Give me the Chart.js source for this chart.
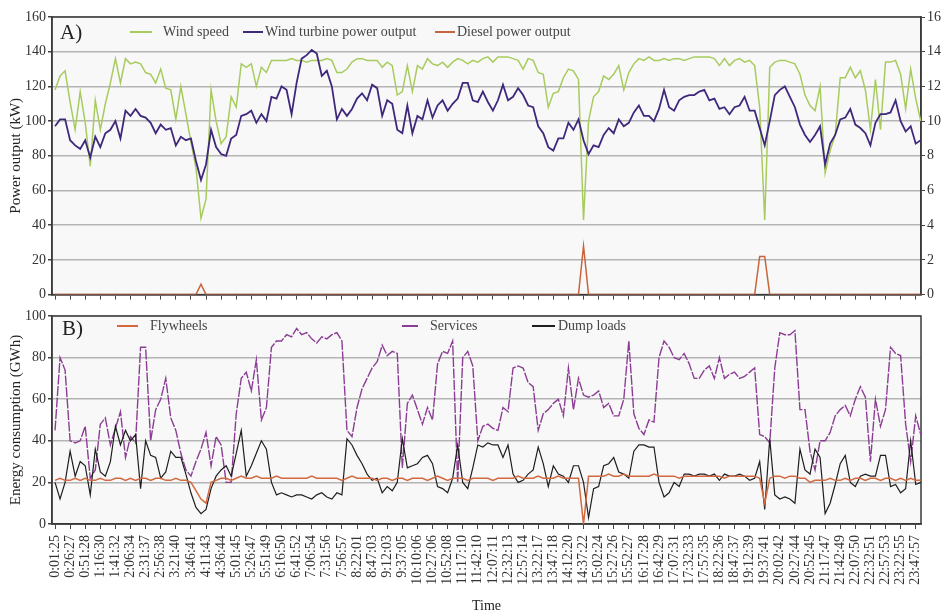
<!DOCTYPE html>
<html><head><meta charset="utf-8">
<script src="https://cdn.jsdelivr.net/npm/chart.js@4.4.1/dist/chart.umd.min.js"></script>
<style>
html,body{margin:0;padding:0;background:#fff;width:944px;height:611px;overflow:hidden}
#wa{position:absolute;left:0;top:0;width:944px;height:305px}
#wb{position:absolute;left:0;top:305px;width:944px;height:306px}
</style></head><body>
<div id="wa"><canvas id="ca"></canvas></div>
<div id="wb"><canvas id="cb"></canvas></div>
<script>
// ---- DATA ----
const tickLabels = ["0:01:25","0:26:27","0:51:28","1:16:30","1:41:32","2:06:34","2:31:37","2:56:38","3:21:40","3:46:41",
"4:11:43","4:36:44","5:01:45","5:26:47","5:51:49","6:16:50","6:41:52","7:06:54","7:31:56","7:56:57",
"8:22:01","8:47:03","9:12:03","9:37:05","10:10:06","10:27:06","10:52:08","11:17:10","11:42:10","12:07:11",
"12:32:13","12:57:14","13:22:17","13:47:18","14:12:20","14:37:22","15:02:24","15:27:26","15:52:27","16:17:28",
"16:42:29","17:07:31","17:32:33","17:57:35","18:22:36","18:47:37","19:12:39","19:37:41","20:02:42","20:27:44",
"20:52:45","21:17:47","21:42:49","22:07:50","22:32:51","22:57:53","23:22:55","23:47:57"];
const samplesPerTick = 3; // readings between two labelled ticks

// Wind speed (m/s, right axis)
const windSpeed = [11.8,12.6,12.9,11.1,9.5,11.7,9.9,7.4,11.2,9.5,11.0,12.2,13.6,12.2,13.6,13.3,13.4,13.3,12.8,12.7,
12.2,13.0,11.9,11.8,10.1,12.0,10.4,8.8,7.3,4.4,5.5,11.8,10.0,8.7,9.1,11.4,10.8,13.3,13.1,13.3,
12.0,13.1,12.8,13.5,13.5,13.5,13.5,13.6,13.5,13.5,13.4,13.5,13.5,13.5,13.6,13.5,12.8,12.8,13.0,
13.4,13.6,13.6,13.5,13.5,13.5,13.1,13.4,13.2,11.5,11.7,13.2,11.7,13.2,13.0,13.6,13.3,13.2,13.4,13.1,
13.4,13.6,13.5,13.3,13.5,13.4,13.6,13.7,13.4,13.7,13.7,13.7,13.6,13.5,13.0,13.6,13.5,12.8,12.7,10.8,
11.6,11.7,12.5,13.0,12.9,12.4,4.3,10.0,11.4,11.7,12.6,12.4,12.7,13.2,11.8,12.8,13.3,13.6,
13.5,13.7,13.5,13.5,13.6,13.5,13.6,13.6,13.5,13.6,13.7,13.7,13.7,13.7,13.6,13.2,13.6,13.2,13.5,13.6,
13.4,13.5,13.2,10.8,4.3,13.1,13.4,13.5,13.5,13.4,13.3,12.7,11.5,10.9,10.6,12.0,7.0,8.3,9.2,12.5,
12.5,13.1,12.5,12.9,11.8,9.5,12.4,9.5,13.4,13.4,13.5,12.7,10.7,13.0,11.3,10.0];

// Wind turbine power output (kW)
const turbinePower = [97,101,101,89,86,84,89,79,91,85,93,95,100,90,106,103,107,103,102,99,
93,98,95,96,86,91,89,90,77,66,75,95,85,81,80,90,92,103,104,106,
99,104,100,114,113,120,118,104,122,136,138,141,139,126,129,120,101,107,103,
107,113,116,112,121,119,103,112,110,95,93,109,93,103,101,112,102,109,112,106,
110,113,122,122,112,111,117,111,106,112,121,112,114,119,115,109,108,97,93,85,
83,90,90,99,95,101,89,81,86,85,92,96,93,101,97,99,105,109,
103,103,100,107,118,108,106,112,114,115,115,117,118,112,113,107,108,104,108,109,
114,106,106,96,86,100,115,118,120,114,108,98,92,88,92,97,75,87,92,101,
102,107,98,96,93,86,99,104,104,105,112,100,94,97,87,89];

// Diesel power output (kW)
const dieselPower = [0,0,0,0,0,0,0,0,0,0,0,0,0,0,0,0,0,0,0,0,
0,0,0,0,0,0,0,0,0,6,0,0,0,0,0,0,0,0,0,0,
0,0,0,0,0,0,0,0,0,0,0,0,0,0,0,0,0,0,0,0,
0,0,0,0,0,0,0,0,0,0,0,0,0,0,0,0,0,0,0,0,
0,0,0,0,0,0,0,0,0,0,0,0,0,0,0,0,0,0,0,0,
0,0,0,0,0,28,0,0,0,0,0,0,0,0,0,0,0,0,0,0,
0,0,0,0,0,0,0,0,0,0,0,0,0,0,0,0,0,0,0,0,
22,22,0,0,0,0,0,0,0,0,0,0,0,0,0,0,0,0,0,0,
0,0,0,0,0,0,0,0,0,0,0,0,0];

// Flywheels (GWh)
const flywheels = [21,22,21,21,22,21,22,21,21,22,21,21,22,22,21,22,21,22,22,21,22,22,21,21,22,21,21,
20,16,12,10,20,
21,22,22,21,22,23,22,22,23,22,22,22,23,22,22,22,22,22,22,23,
22,22,22,22,22,21,22,23,22,22,22,22,21,22,22,21,22,22,21,22,
22,22,21,22,23,22,21,22,22,22,21,22,22,22,22,21,22,22,22,22,
23,22,22,22,23,22,22,22,23,22,22,22,22,
0,
23,23,23,23,24,23,23,24,23,23,23,23,23,24,23,23,23,23,22,23,
23,23,23,23,23,23,23,22,23,23,23,23,23,23,22,
10,
22,23,23,22,23,23,22,22,20,21,21,21,22,21,21,22,21,22,22,21,
22,22,21,22,22,21,22,21,22,21,21];

// Services (GWh)
const services = [45,80,74,40,39,40,47,22,26,48,51,38,46,54,32,42,39,85,85,40,
55,60,70,51,45,34,26,23,30,36,44,28,42,38,20,20,53,70,73,64,
79,50,56,85,88,88,91,90,94,91,92,89,87,90,89,91,92,88,45,42,
56,65,70,75,78,86,81,83,82,27,58,62,55,48,56,50,77,83,82,88,
20,80,83,76,40,47,
48,46,45,56,54,75,76,75,68,66,45,53,55,58,60,52,75,55,70,62,
61,62,64,56,58,52,52,60,88,53,46,43,50,49,80,88,85,80,79,82,
77,70,70,74,76,70,80,70,72,73,70,71,73,75,43,42,39,75,92,91,
91,93,55,55,35,26,40,40,44,52,55,57,52,60,66,61,30,60,47,55,
85,82,81,48,30,52,43];

// Dump loads (GWh)
const dumpLoads = [20,12,20,35,23,30,28,14,36,25,23,30,47,38,45,40,43,17,40,33,
32,22,25,35,32,32,24,15,8,5,7,17,23,26,28,23,34,45,23,28,
34,40,36,20,14,15,14,13,14,14,13,12,14,15,13,12,15,14,41,38,
33,29,24,21,22,15,18,16,20,41,27,28,29,32,33,29,18,17,15,22,
38,20,17,27,38,37,
39,38,38,32,38,24,20,21,24,26,37,29,18,28,24,23,20,28,28,20,
3,17,18,28,29,32,25,24,22,35,38,38,37,37,20,13,15,20,18,24,
24,23,24,24,23,24,21,24,23,23,24,23,21,22,30,7,41,14,12,13,
12,10,36,26,24,36,32,5,10,19,29,33,20,18,23,24,23,23,33,33,
18,19,15,17,40,19,20];

// ---- CHARTS ----
const toXY = arr => arr.map((v, i) => ({x: i / samplesPerTick, y: v}));
Chart.defaults.font.family = "'Liberation Serif','Times New Roman',serif";
Chart.defaults.color = '#333';

const frame = {
  id: 'frame',
  beforeDraw(chart) {
    const {ctx, chartArea: a} = chart;
    ctx.save(); ctx.fillStyle = '#f8f8f8';
    ctx.fillRect(a.left, a.top, a.right - a.left, a.bottom - a.top); ctx.restore();
  },
  beforeDatasetsDraw(chart) {
    const {ctx, chartArea: a} = chart;
    ctx.save(); ctx.strokeStyle = '#3a3a3a'; ctx.lineWidth = 1.5;
    ctx.strokeRect(a.left, a.top, a.right - a.left, a.bottom - a.top); ctx.restore();
  }
};
const insideLegend = {
  id: 'insideLegend',
  afterDatasetsDraw(chart, args, o) {
    const ctx = chart.ctx;
    ctx.save();
    ctx.fillStyle = '#222'; ctx.textBaseline = 'middle'; ctx.textAlign = 'left';
    ctx.font = "21px 'Liberation Serif'";
    ctx.fillText(o.panel, o.panelX, o.panelY);
    ctx.font = "14px 'Liberation Serif'";
    ctx.fillStyle = '#444';
    o.items.forEach(it => {
      const ds = chart.data.datasets[it.dataset];
      ctx.strokeStyle = ds.borderColor; ctx.lineWidth = 2; ctx.setLineDash([]);
      ctx.beginPath(); ctx.moveTo(it.x, o.y); ctx.lineTo(it.x + it.len, o.y); ctx.stroke();
      ctx.fillText(ds.label, it.textX, o.y);
    });
    ctx.restore();
  }
};
const setTicks = s => { s.ticks = tickLabels.map((_, i) => ({value: i})); };
const xBase = (showLabels) => ({
  type: 'linear', min: -0.2, max: 57.35,
  afterBuildTicks: setTicks,
  grid: {drawOnChartArea: false, drawTicks: true, tickLength: 5, tickColor: '#444', lineWidth: 1},
  border: {display: true, color: '#3a3a3a', width: 1.5},
  ticks: showLabels ? {autoSkip: false, maxRotation: 90, minRotation: 90, padding: 6,
    font: {size: 14}, color: '#333', callback: v => tickLabels[v] ?? ''} : {display: false}
});

new Chart(document.getElementById('ca'), {
  type: 'line',
  data: {datasets: [
    {label: 'Wind speed', data: toXY(windSpeed), yAxisID: 'y2', borderColor: '#a8cb5e', borderWidth: 1.5, pointRadius: 0, order: 3},
    {label: 'Wind turbine power output', data: toXY(turbinePower), yAxisID: 'y', borderColor: '#3f287c', borderWidth: 1.8, pointRadius: 0, order: 1},
    {label: 'Diesel power output', data: toXY(dieselPower), yAxisID: 'y', borderColor: '#c8643c', borderWidth: 1.5, pointRadius: 0, order: 2}
  ]},
  options: {
    responsive: true, maintainAspectRatio: false, animation: false, devicePixelRatio: 1,
    layout: {padding: {top: 17, left: 0, right: 0, bottom: 0}},
    plugins: {legend: {display: false}, tooltip: {enabled: false},
      insideLegend: {panel: 'A)', panelX: 60, panelY: 33, y: 32, items: [
        {dataset: 0, x: 130, len: 22, textX: 163},
        {dataset: 1, x: 243, len: 20, textX: 265},
        {dataset: 2, x: 435, len: 20, textX: 457}]}},
    scales: {
      x: Object.assign(xBase(false), {afterFit: s => { s.height = 8; }}),
      y: {position: 'left', min: 0, max: 160,
        ticks: {stepSize: 20, font: {size: 14}, padding: 2, color: '#333'},
        grid: {color: '#b4b4b4', lineWidth: 1.5, tickLength: 4, tickColor: '#444'},
        border: {color: '#3a3a3a', width: 1.5},
        title: {display: true, text: 'Power output (kW)', font: {size: 15}, color: '#222', padding: {top: 7, bottom: 0}},
        afterFit: s => { s.width = 52; }},
      y2: {position: 'right', min: 0, max: 16,
        ticks: {stepSize: 2, font: {size: 14}, padding: 2, color: '#333'},
        grid: {drawOnChartArea: false, tickLength: 4, tickColor: '#444'},
        border: {color: '#3a3a3a', width: 1.5},
        afterFit: s => { s.width = 23; }}
    }
  },
  plugins: [frame, insideLegend]
});

new Chart(document.getElementById('cb'), {
  type: 'line',
  data: {datasets: [
    {label: 'Flywheels', data: toXY(flywheels), borderColor: '#d2693f', borderWidth: 1.5, pointRadius: 0, order: 1},
    {label: 'Services', data: toXY(services), borderColor: '#8b3d94', borderWidth: 1.4, borderDash: [10, 1.5], pointRadius: 0, order: 3},
    {label: 'Dump loads', data: toXY(dumpLoads), borderColor: '#1e1e1e', borderWidth: 1.2, pointRadius: 0, order: 2}
  ]},
  options: {
    responsive: true, maintainAspectRatio: false, animation: false, devicePixelRatio: 1,
    layout: {padding: {top: 11, left: 0, right: 23, bottom: 0}},
    plugins: {legend: {display: false}, tooltip: {enabled: false},
      insideLegend: {panel: 'B)', panelX: 62, panelY: 24, y: 21, items: [
        {dataset: 0, x: 117, len: 21, textX: 150},
        {dataset: 1, x: 402, len: 16, textX: 430},
        {dataset: 2, x: 532, len: 23, textX: 558}]}},
    scales: {
      x: Object.assign(xBase(true), {
        title: {display: true, text: 'Time', font: {size: 14}, color: '#222', padding: {top: 0, bottom: -4}},
        afterFit: s => { s.height = 87; }}),
      y: {position: 'left', min: 0, max: 100,
        ticks: {stepSize: 20, font: {size: 14}, padding: 2, color: '#333'},
        grid: {color: '#b4b4b4', lineWidth: 1.5, tickLength: 4, tickColor: '#444'},
        border: {color: '#3a3a3a', width: 1.5},
        title: {display: true, text: 'Energy consumption (GWh)', font: {size: 15}, color: '#222', padding: {top: 7, bottom: 0}},
        afterFit: s => { s.width = 52; }}
    }
  },
  plugins: [frame, insideLegend]
});
</script>
</body></html>
